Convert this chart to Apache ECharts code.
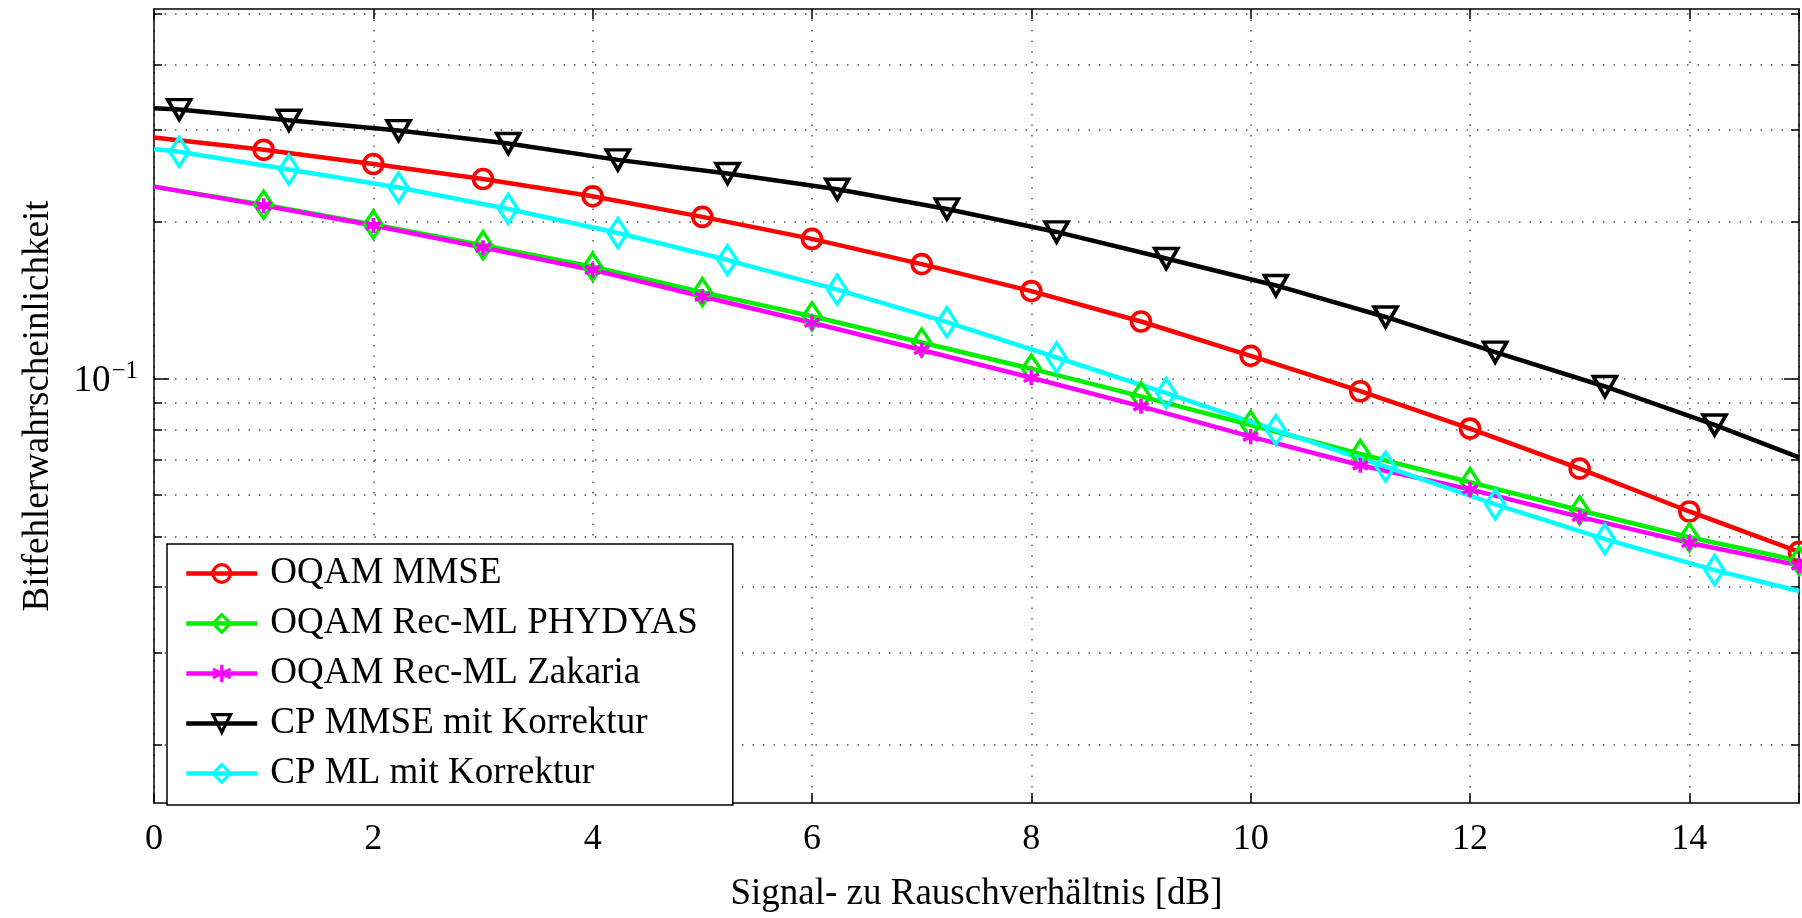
<!DOCTYPE html>
<html>
<head>
<meta charset="utf-8">
<title>Bitfehlerwahrscheinlichkeit</title>
<script src="https://cdn.jsdelivr.net/npm/echarts@6.0.0/dist/echarts.min.js"></script>
<style>
	html, body { margin: 0; padding: 0; background: #fff; }
	#ber { width: 1802px; height: 918px; }
</style>
</head>
<body>
<div id="ber"></div>
<script>
// SNR in dB: ganzzahlige Stuetzstellen und die versetzten Markerpositionen
var snr = [0, 1, 2, 3, 4, 5, 6, 7, 8, 9, 10, 11, 12, 13, 14, 15];
var snrVersatz = [0, 0.23, 1.23, 2.23, 3.23, 4.23, 5.23, 6.23, 7.23, 8.23, 9.23, 10.23, 11.23, 12.23, 13.23, 14.23, 15];

// Bitfehlerwahrscheinlichkeit
var oqamMmse = [0.290, 0.2747, 0.258, 0.2415, 0.2238, 0.2044, 0.1855, 0.166, 0.1474, 0.1289, 0.1108, 0.0948, 0.0804, 0.0674, 0.0558, 0.0467];
var oqamPhydyas = [0.2336, 0.2157, 0.1977, 0.1804, 0.1641, 0.1467, 0.1319, 0.1175, 0.1047, 0.0927, 0.0817, 0.0719, 0.0635, 0.0561, 0.0498, 0.0449];
var oqamZakaria = [0.2336, 0.2148, 0.1968, 0.1785, 0.1618, 0.1439, 0.1282, 0.1137, 0.1006, 0.0887, 0.0776, 0.0684, 0.0615, 0.0545, 0.0486, 0.0440];
var cpMmse = [0.330, 0.328, 0.313, 0.299, 0.2825, 0.2628, 0.2475, 0.2309, 0.2117, 0.1913, 0.1702, 0.1511, 0.1315, 0.1126, 0.0968, 0.0817, 0.0708];
var cpMl = [0.2758, 0.2723, 0.2519, 0.2326, 0.2117, 0.1904, 0.169, 0.1483, 0.1285, 0.110, 0.0940, 0.0799, 0.0680, 0.0576, 0.0494, 0.0431, 0.0393];

// Achsen
var xMin = 0, xMax = 15, xSchritt = 2;
var yMin = 0.01544, yMax = 0.511;
var yTicks = [0.02, 0.03, 0.04, 0.05, 0.06, 0.07, 0.08, 0.09, 0.1, 0.2, 0.3, 0.4, 0.5];
var yBeschriftung = [0.1];

var schrift = '"Liberation Serif", "Times New Roman", serif';

// erster Punkt (und bei den versetzten Kurven auch der letzte) ohne Marker
function punkte(xs, ys, endeOhneMarker) {
	var res = [];
	for (var i = 0; i < xs.length; i++) {
		var p = {value: [xs[i], ys[i]]};
		if (i == 0 || (endeOhneMarker && i == xs.length - 1)) {
			p.symbol = 'none';
		}
		res.push(p);
	}
	return res;
}

function kurve(name, farbe, daten, symbol, groesse, drehung) {
	return {
		name: name,
		type: 'line',
		data: daten,
		symbol: symbol,
		symbolSize: groesse,
		symbolRotate: drehung || 0,
		showAllSymbol: true,
		lineStyle: {color: farbe, width: 4.5},
		itemStyle: {color: 'rgba(255,255,255,0)', borderColor: farbe, borderWidth: 3.6},
		emphasis: {disabled: true},
		animation: false
	};
}

var sternchen = 'path://M50,0L50,100M6.7,25L93.3,75M6.7,75L93.3,25';

var chart = echarts.init(document.getElementById('ber'));
chart.setOption({
	backgroundColor: '#fff',
	grid: {left: 154, right: -5, top: 9, bottom: 106, containLabel: false},
	legend: {
		orient: 'vertical',
		left: 167,
		top: 544,
		selectedMode: false,
		backgroundColor: '#fff',
		borderColor: '#000',
		borderWidth: 1.5,
		borderRadius: 0,
		padding: [11, 35, 13, 17],
		itemWidth: 71,
		itemHeight: 22,
		itemGap: 13,
		lineStyle: {width: 4.5},
		itemStyle: {borderWidth: 3.2},
		textStyle: {fontFamily: schrift, fontSize: 37, color: '#000', lineHeight: 36, padding: [0, 0, 0, 8]},
		data: ['OQAM MMSE', 'OQAM Rec-ML PHYDYAS', 'OQAM Rec-ML Zakaria', 'CP MMSE mit Korrektur', 'CP ML mit Korrektur']
	},
	xAxis: [{
		type: 'value',
		position: 'bottom',
		min: xMin,
		max: xMax,
		interval: xSchritt,
		name: 'Signal- zu Rauschverhältnis [dB]',
		nameLocation: 'middle',
		nameGap: 73,
		nameTextStyle: {fontFamily: schrift, fontSize: 37, color: '#000'},
		axisLine: {lineStyle: {color: '#000', width: 1.5}},
		axisTick: {inside: true, length: 10, lineStyle: {color: '#000', width: 1.5}},
		axisLabel: {
			fontFamily: schrift, fontSize: 36, color: '#000', margin: 19,
			formatter: function (v) { return v % xSchritt === 0 ? String(v) : ''; }
		},
		splitLine: {show: true, lineStyle: {color: '#555', width: 1.5, type: [1.5, 9]}}
	}, {
		type: 'value',
		position: 'top',
		min: xMin,
		max: xMax,
		interval: xSchritt,
		axisLine: {lineStyle: {color: '#000', width: 1.5}},
		axisTick: {inside: true, length: 10, lineStyle: {color: '#000', width: 1.5}},
		axisLabel: {show: false},
		splitLine: {show: false}
	}],
	yAxis: [{
		type: 'log',
		logBase: 10,
		position: 'left',
		min: yMin,
		max: yMax,
		name: 'Bitfehlerwahrscheinlichkeit',
		nameLocation: 'middle',
		nameGap: 97,
		nameTextStyle: {fontFamily: schrift, fontSize: 37, color: '#000'},
		axisLine: {show: true, lineStyle: {color: '#000', width: 1.5}},
		axisTick: {inside: true, length: 8, customValues: yTicks, lineStyle: {color: '#000', width: 1.5}},
		axisLabel: {
			customValues: yBeschriftung,
			margin: 16,
			formatter: function (v) { return '{b|10}{s|\u22121}'; },
			rich: {
				b: {fontFamily: schrift, fontSize: 37, color: '#000', verticalAlign: 'bottom'},
				s: {fontFamily: schrift, fontSize: 25, color: '#000', verticalAlign: 'bottom', padding: [0, 0, 16, 1]}
			}
		},
		splitLine: {show: true, lineStyle: {color: '#555', width: 1.5, type: [1.5, 9]}}
	}, {
		type: 'log',
		position: 'left',
		min: yMin,
		max: yMax,
		axisLine: {show: false},
		axisTick: {inside: true, length: 15, customValues: yBeschriftung, lineStyle: {color: '#000', width: 1.5}},
		axisLabel: {show: false},
		splitLine: {show: false}
	}, {
		type: 'log',
		position: 'right',
		min: yMin,
		max: yMax,
		axisLine: {show: true, lineStyle: {color: '#000', width: 1.5}},
		axisTick: {inside: true, length: 8, customValues: yTicks, lineStyle: {color: '#000', width: 1.5}},
		axisLabel: {show: false},
		splitLine: {show: false}
	}, {
		type: 'log',
		position: 'right',
		min: yMin,
		max: yMax,
		axisLine: {show: false},
		axisTick: {inside: true, length: 15, customValues: yBeschriftung, lineStyle: {color: '#000', width: 1.5}},
		axisLabel: {show: false},
		splitLine: {show: false}
	}],
	series: [
		kurve('OQAM MMSE', '#ff0000', punkte(snr, oqamMmse, false), 'circle', 19),
		kurve('OQAM Rec-ML PHYDYAS', '#00ee00', punkte(snr, oqamPhydyas, false), 'diamond', [18, 27]),
		kurve('OQAM Rec-ML Zakaria', '#ff00ff', punkte(snr, oqamZakaria, false), sternchen, 15),
		kurve('CP MMSE mit Korrektur', '#000000', punkte(snrVersatz, cpMmse, true), 'triangle', [23, 20], 180),
		kurve('CP ML mit Korrektur', '#00ffff', punkte(snrVersatz, cpMl, true), 'diamond', [19, 29])
	]
});
</script>
</body>
</html>
